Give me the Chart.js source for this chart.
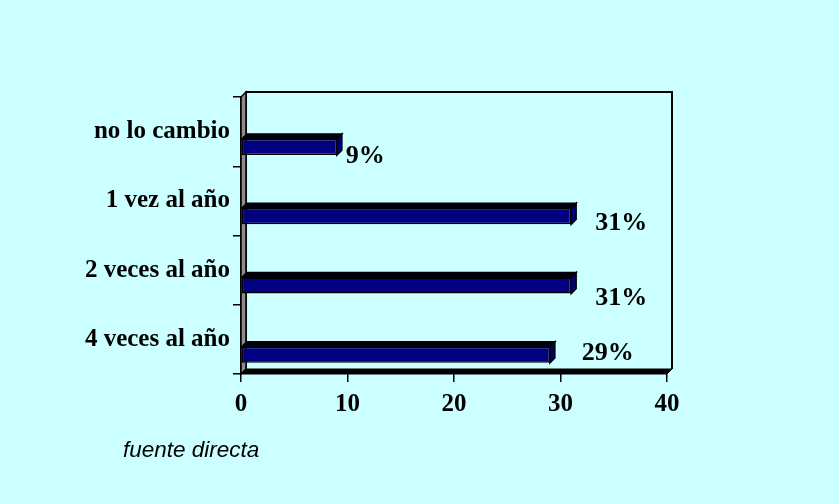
<!DOCTYPE html>
<html>
<head>
<meta charset="utf-8">
<script src="https://cdn.jsdelivr.net/npm/chart.js@4.4.1/dist/chart.umd.min.js"></script>
<style>
  html, body { margin: 0; padding: 0; background: #CCFFFF; }
  #wrap { position: relative; width: 839px; height: 504px; }
</style>
</head>
<body>
<div id="wrap"><canvas id="c" width="839" height="504"></canvas></div>
<script>
const categories = ["no lo cambio", "1 vez al año", "2 veces al año", "4 veces al año"];
const values = [9, 31, 31, 29];
const valueLabels = ["9%", "31%", "31%", "29%"];
const xTicks = [0, 10, 20, 30, 40];
const sourceNote = "fuente directa";

// label placement offsets (style, relative to bar end / bar centre)
const labelShift = [[9, 9.5], [24, 7], [24, 12.5], [32, -2]];
const DX = 5, DY = -5;
const SERIF = "'Liberation Serif', 'Times New Roman', serif";

const bg = {
  id: 'bg',
  beforeDraw(chart) {
    const ctx = chart.ctx;
    ctx.save();
    ctx.fillStyle = '#CCFFFF';
    ctx.fillRect(0, 0, chart.width, chart.height);
    ctx.restore();
  },
  beforeDatasetsDraw(chart) {
    const ctx = chart.ctx;
    const a = chart.chartArea;
    ctx.save();
    // back wall outline
    ctx.strokeStyle = '#000';
    ctx.lineWidth = 2;
    ctx.beginPath();
    ctx.moveTo(a.left + DX, a.bottom + DY);
    ctx.lineTo(a.left + DX, a.top + DY);
    ctx.lineTo(a.right + DX, a.top + DY);
    ctx.lineTo(a.right + DX, a.bottom + DY);
    ctx.stroke();
    // left wall
    ctx.fillStyle = '#8c8c8c';
    ctx.lineWidth = 1.5;
    ctx.beginPath();
    ctx.moveTo(a.left, a.top);
    ctx.lineTo(a.left + DX, a.top + DY);
    ctx.lineTo(a.left + DX, a.bottom + DY);
    ctx.lineTo(a.left, a.bottom);
    ctx.closePath();
    ctx.fill();
    ctx.stroke();
    // floor
    ctx.fillStyle = '#000';
    ctx.beginPath();
    ctx.moveTo(a.left, a.bottom);
    ctx.lineTo(a.left + DX, a.bottom + DY);
    ctx.lineTo(a.right + DX, a.bottom + DY);
    ctx.lineTo(a.right, a.bottom);
    ctx.closePath();
    ctx.fill();
    ctx.lineWidth = 1;
    ctx.stroke();
    ctx.restore();
  },
  afterDatasetsDraw(chart) {
    const ctx = chart.ctx;
    const meta = chart.getDatasetMeta(1);
    ctx.save();
    ctx.strokeStyle = '#000';
    ctx.lineWidth = 1.5;
    ctx.lineJoin = 'miter';
    meta.data.forEach((bar, i) => {
      const p = bar.getProps(['x', 'y', 'base', 'height'], true);
      const x0 = p.base, x1 = p.x;
      const top = p.y - p.height / 2, bot = p.y + p.height / 2;
      // top face
      ctx.fillStyle = '#000010';
      ctx.beginPath();
      ctx.moveTo(x0, top);
      ctx.lineTo(x0 + DX, top + DY);
      ctx.lineTo(x1 + DX, top + DY);
      ctx.lineTo(x1, top);
      ctx.closePath();
      ctx.fill();
      ctx.stroke();
      // side face
      ctx.fillStyle = '#000070';
      ctx.beginPath();
      ctx.moveTo(x1, top);
      ctx.lineTo(x1 + DX, top + DY);
      ctx.lineTo(x1 + DX, bot + DY);
      ctx.lineTo(x1, bot);
      ctx.closePath();
      ctx.fill();
      ctx.stroke();
      // value label
      ctx.fillStyle = '#000';
      ctx.font = 'bold 26px ' + SERIF;
      ctx.textAlign = 'left';
      ctx.textBaseline = 'middle';
      ctx.fillText(valueLabels[i], x1 + labelShift[i][0], p.y + labelShift[i][1]);
    });
    // source note
    ctx.font = 'italic 22.5px "Liberation Sans", Arial, sans-serif';
    ctx.textAlign = 'left';
    ctx.textBaseline = 'alphabetic';
    ctx.fillText(sourceNote, 123, 457);
    ctx.restore();
  }
};

new Chart(document.getElementById('c'), {
  type: 'bar',
  data: {
    labels: categories,
    datasets: [
      { data: categories.map(() => null), backgroundColor: 'rgba(0,0,0,0)' },
      {
        data: values,
        backgroundColor: '#000080',
        borderColor: '#000',
        borderWidth: 1.5,
        borderSkipped: false
      }
    ]
  },
  options: {
    indexAxis: 'y',
    responsive: false,
    animation: false,
    devicePixelRatio: 1,
    categoryPercentage: 0.892,
    barPercentage: 0.52,
    layout: { padding: { top: 97, right: 172, left: 0, bottom: 0 } },
    plugins: { legend: { display: false }, tooltip: { enabled: false } },
    scales: {
      x: {
        min: 0, max: 40,
        afterFit(s) { s.height = 130; },
        afterBuildTicks(s) { s.ticks = xTicks.map(v => ({ value: v })); },
        grid: { drawOnChartArea: false, drawTicks: true, tickLength: 8, color: '#000', lineWidth: 1.5 },
        border: { display: false },
        ticks: { color: '#000', padding: 8, font: { family: SERIF, size: 25, weight: 'bold' } }
      },
      y: {
        afterFit(s) { s.width = 241; },
        grid: { drawOnChartArea: false, drawTicks: true, tickLength: 8, color: '#000', lineWidth: 1.5, offset: true },
        border: { display: true, color: '#000', width: 1.5 },
        ticks: { color: '#000', padding: 3, font: { family: SERIF, size: 25, weight: 'bold' } }
      }
    }
  },
  plugins: [bg]
});
</script>
</body>
</html>
